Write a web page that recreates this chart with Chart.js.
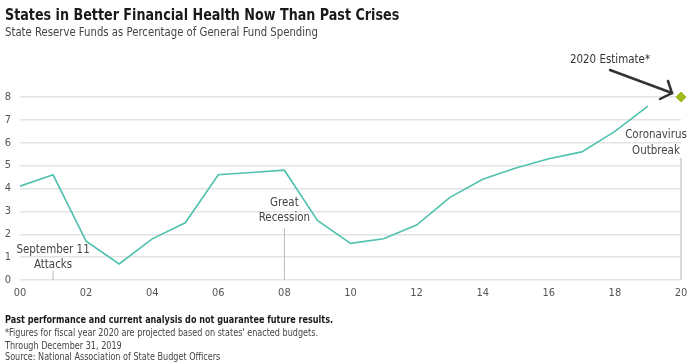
<!DOCTYPE html>
<html>
<head>
<meta charset="utf-8">
<script src="https://cdn.jsdelivr.net/npm/chart.js@4"></script>
<style>
  body { margin: 0; width: 690px; height: 363px; position: relative; background: #fff; overflow: hidden;
         font-family: "DejaVu Sans Condensed", sans-serif; }
  #myChart { position: absolute; left: 0; top: 0; }
  .t { position: absolute; left: 5px; white-space: nowrap; transform-origin: 0 0; }
  #title { top: 5px; font-size: 16px; font-weight: bold; color: #1a1a1a; transform: scaleX(0.885); }
  #sub { top: 24px; font-size: 12.5px; color: #444; transform: scaleX(0.9); }
  .f { font-size: 10px; color: #444; transform: scaleX(0.9); }
  #f1 { top: 314px; font-weight: bold; color: #1a1a1a; }
</style>
</head>
<body>
<canvas id="myChart" width="690" height="363"></canvas>
<div class="t" id="title">States in Better Financial Health Now Than Past Crises</div>
<div class="t" id="sub">State Reserve Funds as Percentage of General Fund Spending</div>
<div class="t f" id="f1">Past performance and current analysis do not guarantee future results.</div>
<div class="t f" style="top:327px">*Figures for fiscal year 2020 are projected based on states' enacted budgets.</div>
<div class="t f" style="top:340px">Through December 31, 2019</div>
<div class="t f" style="top:351px">Source: National Association of State Budget Officers</div>
<script>
const years = [2000, 2001, 2002, 2003, 2004, 2005, 2006, 2007, 2008, 2009,
  2010, 2011, 2012, 2013, 2014, 2015, 2016, 2017, 2018, 2019];
const reserves = [4.1, 4.6, 1.7, 0.7, 1.8, 2.5, 4.6, 4.7, 4.8, 2.6,
  1.6, 1.8, 2.4, 3.6, 4.4, 4.9, 5.3, 5.6, 6.5, 7.6];
const estimateYear = 2020;
const estimateValue = 8.0;
const xTicks = ['00', '02', '04', '06', '08', '10', '12', '14', '16', '18', '20'];
const events = [
  { year: 2001, lines: ['September 11', 'Attacks'] },
  { year: 2008, lines: ['Great', 'Recession'] },
  { year: 2020, lines: ['Coronavirus', 'Outbreak'] }
];

// narrow text: the original uses a condensed face
function label(c, txt, x, y) {
  c.save();
  c.translate(x, y);
  c.scale(0.88, 1);
  c.fillText(txt, 0, 0);
  c.restore();
}

const annotations = {
  id: 'annotations',
  afterDatasetsDraw(chart) {
    const c = chart.ctx;
    const x = chart.scales.x, y = chart.scales.y;
    const base = y.getPixelForValue(0);
    c.save();
    c.font = '13px "DejaVu Sans Condensed", sans-serif';
    c.textAlign = 'center';
    c.textBaseline = 'middle';
    c.strokeStyle = '#bbbbbb';
    c.lineWidth = 1;
    c.fillStyle = '#444';
    // September 11
    let px = x.getPixelForValue(events[0].year);
    c.beginPath(); c.moveTo(px, base - 9); c.lineTo(px, base); c.stroke();
    label(c, events[0].lines[0], px, base - 30);
    label(c, events[0].lines[1], px, base - 15);
    // Great Recession
    px = x.getPixelForValue(events[1].year);
    c.beginPath(); c.moveTo(px, base - 52); c.lineTo(px, base); c.stroke();
    label(c, events[1].lines[0], px, base - 77);
    label(c, events[1].lines[1], px, base - 62);
    // Coronavirus
    px = x.getPixelForValue(events[2].year);
    c.strokeStyle = '#cccccc';
    c.lineWidth = 1.5;
    c.beginPath(); c.moveTo(px, base - 122); c.lineTo(px, base); c.stroke();
    label(c, events[2].lines[0], px - 25, base - 145);
    label(c, events[2].lines[1], px - 25, base - 129);
    // estimate label + arrow
    const ex = x.getPixelForValue(estimateYear), ey = y.getPixelForValue(estimateValue);
    c.fillStyle = '#333';
    label(c, '2020 Estimate*', ex - 71, ey - 37);
    c.strokeStyle = '#333';
    c.lineWidth = 2.5;
    c.lineCap = 'round';
    const tx = ex - 9, ty = ey - 4;
    c.beginPath(); c.moveTo(ex - 71, ey - 27); c.lineTo(tx, ty); c.stroke();
    c.beginPath(); c.moveTo(tx - 4, ty - 12); c.lineTo(tx, ty); c.lineTo(tx - 12, ty + 6); c.stroke();
    c.restore();
  }
};

new Chart(document.getElementById('myChart'), {
  type: 'line',
  data: {
    datasets: [{
      data: years.map((yr, i) => ({ x: yr, y: reserves[i] })),
      borderColor: '#4fc2ae',
      borderWidth: 1.6,
      pointRadius: 0,
      tension: 0
    }, {
      data: [{ x: estimateYear, y: estimateValue }],
      pointStyle: 'rectRot',
      pointRadius: 5,
      backgroundColor: '#9dbb1f',
      borderColor: '#9dbb1f',
      showLine: false,
      clip: false
    }]
  },
  options: {
    responsive: false,
    animation: false,
    layout: { padding: { left: 0, right: 9, top: 97, bottom: 63 } },
    plugins: { legend: { display: false }, tooltip: { enabled: false } },
    scales: {
      x: {
        type: 'linear', min: 2000, max: 2020,
        afterFit: s => { s.height = 20; s.paddingLeft = 0; s.paddingRight = 0; },
        grid: { display: false, drawTicks: false },
        border: { display: false },
        ticks: {
          stepSize: 2, padding: 7, color: '#555',
          font: { family: '"DejaVu Sans Condensed", sans-serif', size: 11 },
          callback: (v) => xTicks[(v - 2000) / 2]
        }
      },
      y: {
        min: 0, max: 8,
        afterFit: s => { s.width = 20; s.paddingTop = 0; s.paddingBottom = 0; },
        grid: { color: '#e3e3e3', lineWidth: 1.5, drawTicks: false },
        border: { display: false },
        ticks: {
          stepSize: 1, padding: 9, color: '#555',
          font: { family: '"DejaVu Sans Condensed", sans-serif', size: 11 }
        }
      }
    }
  },
  plugins: [annotations]
});
</script>
</body>
</html>
